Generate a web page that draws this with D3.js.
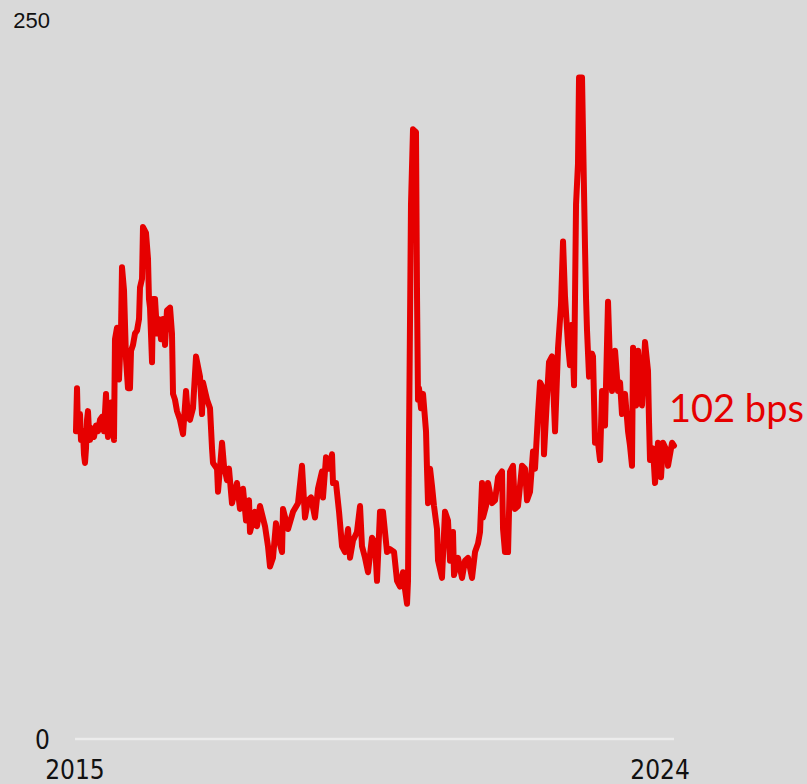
<!DOCTYPE html>
<html>
<head>
<meta charset="utf-8">
<script src="https://cdn.jsdelivr.net/npm/d3@7"></script>
<style>
  body { margin: 0; background: #d9d9d9; }
  svg { display: block; }
</style>
</head>
<body>
<svg id="chart" width="807" height="784"></svg>
<script>
// spread in bps, dates as decimal years
var dates = [2015.015, 2015.031, 2015.046, 2015.077, 2015.092, 2015.123, 2015.138, 2015.154, 2015.169, 2015.185,
    2015.2, 2015.215, 2015.231, 2015.262, 2015.292, 2015.323, 2015.354, 2015.385, 2015.415, 2015.446,
    2015.477, 2015.492, 2015.508, 2015.538, 2015.554, 2015.585, 2015.6, 2015.615, 2015.646, 2015.677,
    2015.708, 2015.723, 2015.754, 2015.785, 2015.815, 2015.846, 2015.862, 2015.892, 2015.923, 2015.954,
    2015.985, 2016.0, 2016.031, 2016.046, 2016.092, 2016.123, 2016.138, 2016.154, 2016.185, 2016.2,
    2016.231, 2016.262, 2016.292, 2016.323, 2016.354, 2016.385, 2016.415, 2016.462, 2016.492, 2016.508,
    2016.538, 2016.569, 2016.615, 2016.662, 2016.708, 2016.738, 2016.769, 2016.815, 2016.862, 2016.923,
    2016.954, 2016.969, 2017.031, 2017.077, 2017.108, 2017.123, 2017.185, 2017.2, 2017.262, 2017.292,
    2017.338, 2017.369, 2017.415, 2017.492, 2017.538, 2017.585, 2017.631, 2017.677, 2017.692, 2017.769,
    2017.8, 2017.846, 2017.923, 2017.969, 2018.0, 2018.046, 2018.092, 2018.138, 2018.185, 2018.2,
    2018.277, 2018.354, 2018.431, 2018.492, 2018.538, 2018.585, 2018.631, 2018.692, 2018.738, 2018.8,
    2018.815, 2018.862, 2018.908, 2018.954, 2018.969, 2019.015, 2019.062, 2019.108, 2019.154, 2019.2,
    2019.231, 2019.277, 2019.338, 2019.385, 2019.415, 2019.462, 2019.508, 2019.569, 2019.615, 2019.646,
    2019.692, 2019.738, 2019.8, 2019.846, 2019.908, 2019.954, 2020.0, 2020.046, 2020.077, 2020.108,
    2020.123, 2020.138, 2020.169, 2020.2, 2020.246, 2020.262, 2020.277, 2020.292, 2020.323, 2020.354,
    2020.4, 2020.415, 2020.431, 2020.462, 2020.492, 2020.523, 2020.569, 2020.585, 2020.646, 2020.692,
    2020.738, 2020.769, 2020.815, 2020.831, 2020.892, 2020.954, 2021.0, 2021.046, 2021.108, 2021.154,
    2021.2, 2021.231, 2021.262, 2021.277, 2021.323, 2021.354, 2021.415, 2021.462, 2021.508, 2021.569,
    2021.585, 2021.615, 2021.662, 2021.692, 2021.738, 2021.769, 2021.815, 2021.877, 2021.923, 2021.954,
    2022.0, 2022.046, 2022.077, 2022.123, 2022.154, 2022.2, 2022.215, 2022.262, 2022.292, 2022.338,
    2022.385, 2022.431, 2022.477, 2022.508, 2022.538, 2022.585, 2022.615, 2022.646, 2022.677, 2022.708,
    2022.738, 2022.754, 2022.8, 2022.831, 2022.846, 2022.862, 2022.877, 2022.908, 2022.954, 2022.969,
    2023.0, 2023.046, 2023.077, 2023.108, 2023.154, 2023.2, 2023.231, 2023.262, 2023.308, 2023.354,
    2023.385, 2023.415, 2023.462, 2023.508, 2023.538, 2023.569, 2023.585, 2023.631, 2023.662, 2023.723,
    2023.769, 2023.815, 2023.831, 2023.846, 2023.892, 2023.923, 2023.969, 2024.015, 2024.046, 2024.108,
    2024.123, 2024.185, 2024.215];

var spreads = [107, 122, 107, 113, 104, 107, 99, 96, 101, 111,
    114, 107, 104, 108, 105, 109, 107, 111, 112, 107,
    120, 109, 105, 112, 117, 114, 104, 139, 143, 125,
    142, 164, 156, 132, 122, 122, 135, 137, 141, 142,
    146, 157, 160, 178, 176, 167, 153, 150, 131, 153,
    153, 141, 146, 139, 146, 137, 149, 150, 141, 120,
    118, 114, 111, 106, 121, 112, 111, 115, 133, 126,
    113, 124, 118, 115, 101, 96, 94, 86, 103, 95,
    90, 94, 82, 89, 80, 87, 76, 83, 72, 79,
    74, 81, 74, 67, 60, 63, 75, 69, 65, 80,
    73, 79, 82, 95, 77, 83, 84, 77, 87, 93,
    84, 98, 94, 99, 89, 89, 79, 67, 65, 73,
    63, 69, 72, 81, 67, 63, 58, 70, 68, 55,
    79, 79, 65, 66, 65, 55, 53, 58, 52, 47,
    55, 103, 186, 212, 211, 153, 118, 122, 115, 120,
    107, 94, 82, 94, 88, 81, 73, 62, 56, 79,
    76, 62, 72, 57, 63, 56, 62, 63, 56, 65,
    68, 72, 89, 77, 81, 89, 82, 83, 91, 93,
    73, 65, 65, 93, 95, 80, 81, 95, 94, 83,
    86, 100, 94, 113, 124, 122, 99, 119, 131, 133,
    107, 136, 151, 173, 154, 137, 130, 144, 123, 186,
    200, 230, 230, 190, 171, 153, 142, 126, 134, 133,
    103, 103, 97, 121, 109, 152, 130, 121, 135, 121,
    124, 113, 120, 107, 102, 95, 136, 116, 135, 116,
    138, 128, 110, 97, 101, 89, 103, 91, 103, 100,
    95, 103, 102];

var yTicks = [0, 250];
var xTicks = [2015, 2024];
var lastLabel = "102 bps";

var svg = d3.select("#chart");
var red = "#e60000";

var xScale = d3.scaleLinear()
    .domain([2015, d3.max(dates)])
    .range([75, 674]);

var yScale = d3.scaleLinear()
    .domain([0, 250])
    .range([739, 20]);

// background
svg.append("rect")
    .attr("width", 807)
    .attr("height", 784)
    .attr("fill", "#d9d9d9");

// zero baseline
svg.append("line")
    .attr("x1", xScale(2015))
    .attr("x2", xScale(d3.max(dates)))
    .attr("y1", yScale(0))
    .attr("y2", yScale(0))
    .attr("stroke", "#ececec")
    .attr("stroke-width", 2.5);

// y labels
svg.selectAll(".ylab")
    .data(yTicks)
    .enter()
    .append("text")
    .attr("class", "ylab")
    .attr("x", 50)
    .attr("y", function (d) { return yScale(d) + (d === 0 ? 10 : 8); })
    .attr("text-anchor", "end")
    .attr("fill", "#111")
    .style("font-family", function (d) { return d === 0 ? "'Liberation Sans Narrow', 'DejaVu Sans Condensed', sans-serif" : "'Liberation Sans', Arial, sans-serif"; })
    .style("font-size", function (d) { return d === 0 ? "26px" : "22px"; })
    .text(function (d) { return d; });

// x labels
svg.selectAll(".xlab")
    .data(xTicks)
    .enter()
    .append("text")
    .attr("class", "xlab")
    .attr("x", function (d) { return xScale(d); })
    .attr("y", 779)
    .attr("text-anchor", "middle")
    .attr("fill", "#111")
    .style("font-family", "'Liberation Sans Narrow', 'DejaVu Sans Condensed', sans-serif")
    .style("font-size", "26px")
    .text(function (d) { return d; });

var data = dates.map(function (d, i) { return { date: d, value: spreads[i] }; });

var line = d3.line()
    .x(function (d) { return xScale(d.date); })
    .y(function (d) { return yScale(d.value); });

svg.append("path")
    .datum(data)
    .attr("d", line)
    .attr("fill", "none")
    .attr("stroke", red)
    .attr("stroke-width", 6)
    .attr("stroke-linejoin", "round")
    .attr("stroke-linecap", "round");

// end label
svg.append("text")
    .attr("x", 669)
    .attr("y", 422)
    .attr("fill", red)
    .style("font-family", "Lato, 'Open Sans', sans-serif")
    .style("font-size", "38px")
    .text(lastLabel);
</script>
</body>
</html>
